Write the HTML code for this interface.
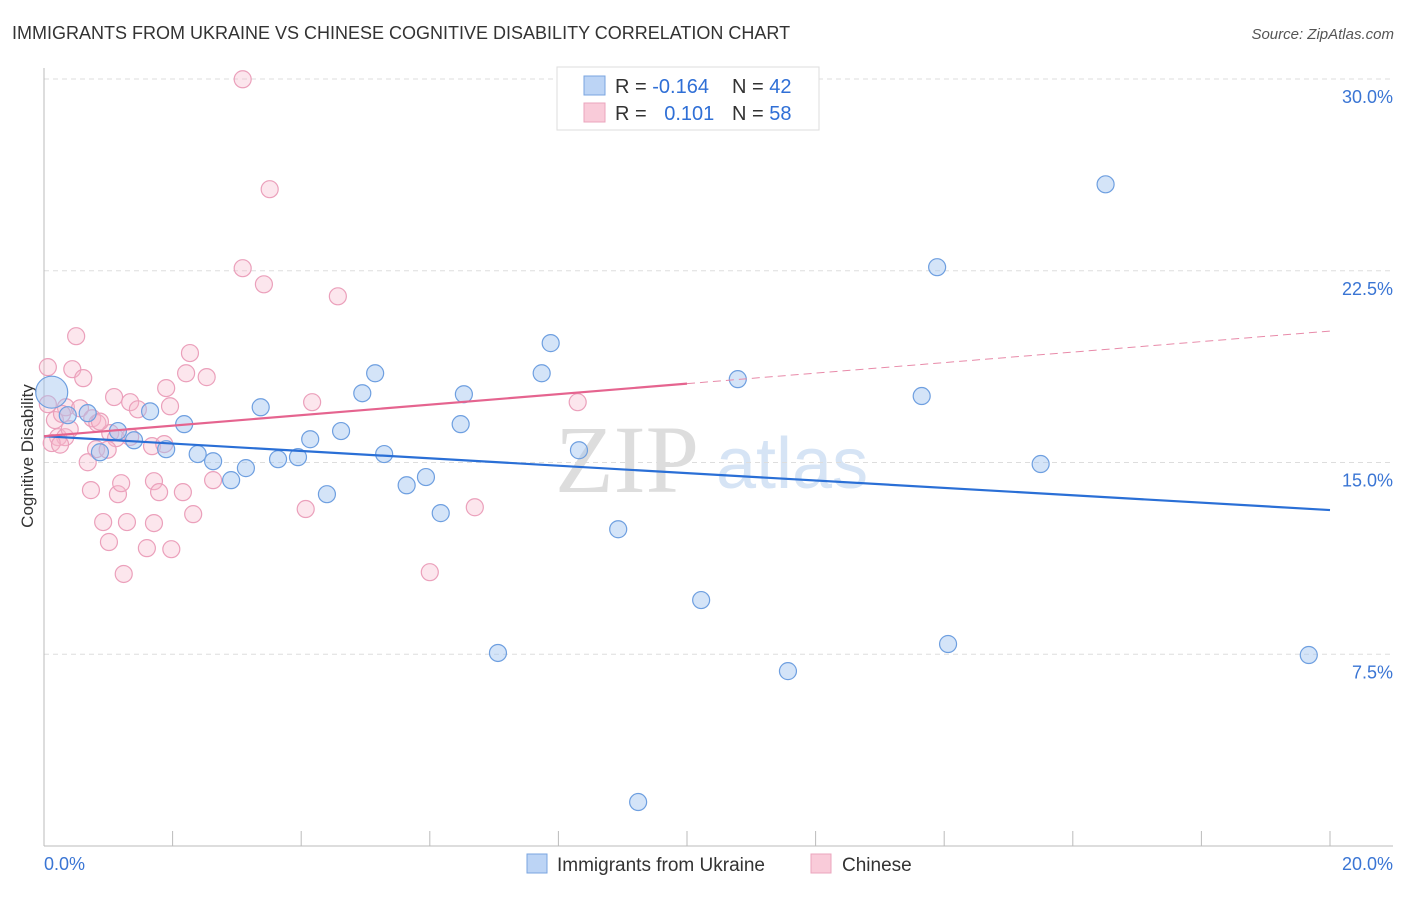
<!DOCTYPE html>
<html><head><meta charset="utf-8"><style>
body{margin:0;background:#fff;font-family:"Liberation Sans",sans-serif}
</style></head><body>
<svg id="c" width="1406" height="892" xmlns="http://www.w3.org/2000/svg" font-family="Liberation Sans, sans-serif">
<text x="12" y="39" font-size="18" fill="#333">IMMIGRANTS FROM UKRAINE VS CHINESE COGNITIVE DISABILITY CORRELATION CHART</text>
<text x="1394" y="39" font-size="15" fill="#555" font-style="italic" text-anchor="end">Source: ZipAtlas.com</text>
<text transform="translate(33,456) rotate(-90)" font-size="17" fill="#333" text-anchor="middle">Cognitive Disability</text>
<text x="555" y="492" font-size="96" fill="#ddd" font-family="Liberation Serif, serif">ZIP</text>
<text x="716" y="488" font-size="72" fill="#d6e4f5">atlas</text>
<g id="grid"></g><g id="axes"></g><g id="pink"></g><g id="blue"></g><g id="trend"></g>
<g>
<rect x="557" y="67" width="262" height="63" fill="#fff" stroke="#ddd"/>
<rect x="584" y="76" width="21" height="19" fill="#bcd4f5" stroke="#7aa5e0"/>
<rect x="584" y="103" width="21" height="19" fill="#f9cbd9" stroke="#eba5bd"/>
<text x="615" y="93" font-size="20" fill="#333">R = <tspan fill="#2f6fd6">-0.164</tspan></text>
<text x="732" y="93" font-size="20" fill="#333">N = <tspan fill="#2f6fd6">42</tspan></text>
<text x="615" y="120" font-size="20" fill="#333">R = <tspan fill="#2f6fd6" dx="12">0.101</tspan></text>
<text x="732" y="120" font-size="20" fill="#333">N = <tspan fill="#2f6fd6">58</tspan></text>
</g>
<g>
<rect x="527" y="854" width="20" height="19" fill="#bcd4f5" stroke="#7aa5e0"/>
<text x="557" y="871" font-size="19" fill="#333">Immigrants from Ukraine</text>
<rect x="811" y="854" width="20" height="19" fill="#f9cbd9" stroke="#eba5bd"/>
<text x="842" y="871" font-size="19" fill="#333">Chinese</text>
</g>
</svg>
<script>
const yTicks=[7.5,15,22.5,30];
const yTickLabels=["7.5%","15.0%","22.5%","30.0%"];
const xTickLabels=["0.0%","20.0%"];
const blueX=[0.12,0.37,0.68,0.87,1.15,1.40,1.65,1.90,2.18,2.39,2.63,2.91,3.14,3.37,3.64,3.95,4.14,4.40,4.62,4.95,5.15,5.29,5.64,5.94,6.17,6.53,6.48,7.06,7.74,7.88,8.32,8.93,9.24,10.22,10.79,11.57,13.89,13.65,14.06,15.5,16.51,19.67];
const blueY=[17.75,16.85,16.93,15.4,16.23,15.87,17.0,15.52,16.5,15.33,15.05,14.31,14.78,17.16,15.13,15.21,15.91,13.76,16.23,17.71,18.49,15.33,14.11,14.43,13.02,17.67,16.5,7.55,18.49,19.67,15.48,12.39,1.72,9.62,18.26,6.84,22.64,17.6,7.9,14.94,25.88,7.47];
const pinkX=[3.09,3.51,3.09,3.42,4.57,0.50,0.06,0.44,0.61,2.27,2.21,2.53,1.90,1.09,1.34,1.96,1.46,4.17,8.30,0.06,0.34,0.56,0.17,0.75,0.83,1.03,0.22,0.33,0.12,1.12,1.68,1.87,0.81,0.68,0.73,1.15,1.20,1.71,1.79,2.16,2.63,2.32,4.07,6.70,0.92,1.29,1.71,1.01,1.60,1.98,1.24,6.00,0.28,0.87,0.4,1.34,0.25,0.99];
const pinkY=[29.99,25.69,22.6,21.97,21.5,19.94,18.73,18.65,18.3,19.28,18.49,18.34,17.91,17.56,17.36,17.2,17.08,17.36,17.36,17.28,17.16,17.12,16.66,16.73,16.54,16.15,15.99,15.99,15.76,15.95,15.64,15.72,15.52,15.01,13.92,13.76,14.19,14.27,13.84,13.84,14.31,12.98,13.18,13.25,12.67,12.67,12.63,11.89,11.65,11.61,10.64,10.71,16.9,16.6,16.3,16.0,15.7,15.5];
const blueTrend=[16.03,13.14];
const pinkTrend=[16.03,20.14];
const pinkSolidEnd=10;
const X=v=>44+v/20*1286, Y=v=>846-v/30*767;
const NS="http://www.w3.org/2000/svg";
function mk(p,t,a){const e=document.createElementNS(NS,t);for(const k in a)e.setAttribute(k,a[k]);document.getElementById(p).appendChild(e);return e;}
yTicks.forEach((t,i)=>{
 const l=mk('grid','line',{x1:44,x2:1393,y1:Y(t),y2:Y(t),stroke:'#ddd','stroke-dasharray':'5,4'});
 
 
 const tx=mk('grid','text',{x:1393,y:Y(t)+24,'font-size':18,fill:'#3a75d4','text-anchor':'end'});tx.textContent=yTickLabels[i];
 
 
});
let a=mk('axes','line',{x1:44,x2:44,y1:68,y2:846,stroke:'#bbb'});


a=mk('axes','line',{x1:44,x2:1393,y1:846,y2:846,stroke:'#bbb'});


for(let i=0;i<=10;i++){const t=mk('axes','line',{x1:X(i*2),x2:X(i*2),y1:831,y2:846,stroke:'#bbb'});
 
 }
[[0,'start',44],[1,'end',1393]].forEach(([i,anc,x])=>{const t=mk('axes','text',{x:x,y:870,'font-size':18,fill:'#3a75d4','text-anchor':anc});t.textContent=xTickLabels[i];
 
 });
pinkX.forEach((x,i)=>{const c=mk('pink','circle',{cx:X(x),cy:Y(pinkY[i]),r:8.5,fill:'rgba(246,182,204,0.35)',stroke:'#eba0bb','stroke-width':1.2});
 
 });
blueX.forEach((x,i)=>{const c=mk('blue','circle',{cx:X(x),cy:Y(blueY[i]),r:i==0?16:8.5,fill:'rgba(160,196,240,0.45)',stroke:'#6e9fe0','stroke-width':1.2});
 
 });
let t=mk('trend','line',{x1:X(0),y1:Y(blueTrend[0]),x2:X(20),y2:Y(blueTrend[1]),stroke:'#2a6fd6','stroke-width':2.2});


const pm=pinkTrend[0]+(pinkTrend[1]-pinkTrend[0])*pinkSolidEnd/20;
t=mk('trend','line',{x1:X(0),y1:Y(pinkTrend[0]),x2:X(pinkSolidEnd),y2:Y(pm),stroke:'#e5648f','stroke-width':2.2});


t=mk('trend','line',{x1:X(pinkSolidEnd),y1:Y(pm),x2:X(20),y2:Y(pinkTrend[1]),stroke:'#e88aa9','stroke-width':1,'stroke-dasharray':'8,5'});


</script>
</body></html>
